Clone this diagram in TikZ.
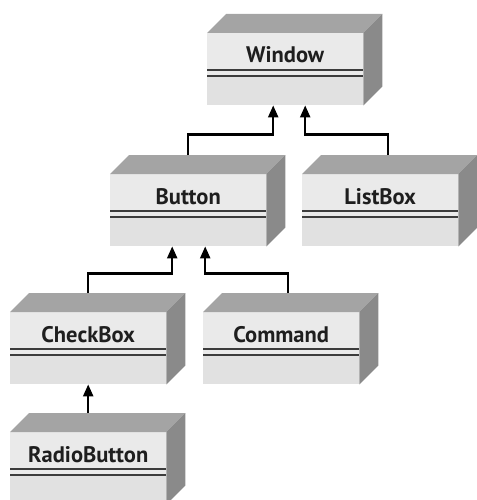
\documentclass[tikz,border=0pt]{standalone}
\usepackage{fontspec}
\setmainfont{PT Sans}
\usepackage{tikz}
\usetikzlibrary{
  arrows.meta,
  positioning,
  calc
}
\definecolor{frontgray}{HTML}{EAEAEA}
\definecolor{lowergray}{HTML}{E1E1E1}
\definecolor{topgray}{HTML}{A4A4A4}
\definecolor{sidegray}{HTML}{8A8A8A}
\definecolor{linegray}{HTML}{3C3C3C}
\definecolor{namegray}{HTML}{1E1E1E}

\begin{document}
\begin{tikzpicture}[x=1pt,y=-1pt,
  classbox/.style={rectangle,fill=frontgray,minimum width=156pt,minimum height=72pt,inner sep=0pt,anchor=north west},
  classname/.style={font=\fontsize{22.5}{26}\selectfont\bfseries,text=namegray,anchor=base},
  sepline/.style={draw=linegray,line width=1.8pt},
  inherit/.style={draw=black,line width=2.2pt,-{Triangle[length=12pt,width=10pt]}}
]
\useasboundingbox (0,0) rectangle (476,500);

% front faces
\node[classbox] (window)   at (207,33)  {};
\node[classbox] (button)   at (110,174) {};
\node[classbox] (listbox)  at (302,174) {};
\node[classbox] (checkbox) at (10,312)  {};
\node[classbox] (command)  at (203,312) {};
\node[classbox] (radio)    at (10,432)  {};

% top and side faces, compartments
\foreach \b in {window,button,listbox,checkbox,command,radio}{
  \fill[lowergray] ($(\b.north west)+(0,43)$) rectangle (\b.south east);
  \fill[topgray] (\b.north west) -- ++(19,-19) -- ($(\b.north east)+(19,-19)$) -- (\b.north east) -- cycle;
  \fill[sidegray] (\b.north east) -- ++(19,-19) -- ($(\b.south east)+(19,-19)$) -- (\b.south east) -- cycle;
  \draw[sepline] ($(\b.north west)+(0,37)$) -- ($(\b.north east)+(0,37)$);
  \draw[sepline] ($(\b.north west)+(0,43)$) -- ($(\b.north east)+(0,43)$);
}

% class names
\node[classname] at ($(window.north)+(0,30)$)   {Window};
\node[classname] at ($(button.north)+(0,30)$)   {Button};
\node[classname] at ($(listbox.north)+(0,30)$)  {ListBox};
\node[classname] at ($(checkbox.north)+(0,30)$) {CheckBox};
\node[classname] at ($(command.north)+(0,30)$)  {Command};
\node[classname] at ($(radio.north)+(0,30)$)    {RadioButton};

% inheritance
\draw[inherit] ($(button.north)+(0,-19)$) |- ($(window.south)+(-12,29)$) -- ($(window.south)+(-12,0)$);
\draw[inherit] ($(listbox.north)+(8,-19)$) |- ($(window.south)+(20,29)$) -- ($(window.south)+(20,0)$);
\draw[inherit] ($(checkbox.north)+(0,-19)$) |- ($(button.south)+(-16,27)$) -- ($(button.south)+(-16,0)$);
\draw[inherit] ($(command.north)+(7,-19)$) |- ($(button.south)+(17,27)$) -- ($(button.south)+(17,0)$);
\draw[inherit] ($(radio.north)+(0,-19)$) -- (checkbox.south);
\end{tikzpicture}
\end{document}
